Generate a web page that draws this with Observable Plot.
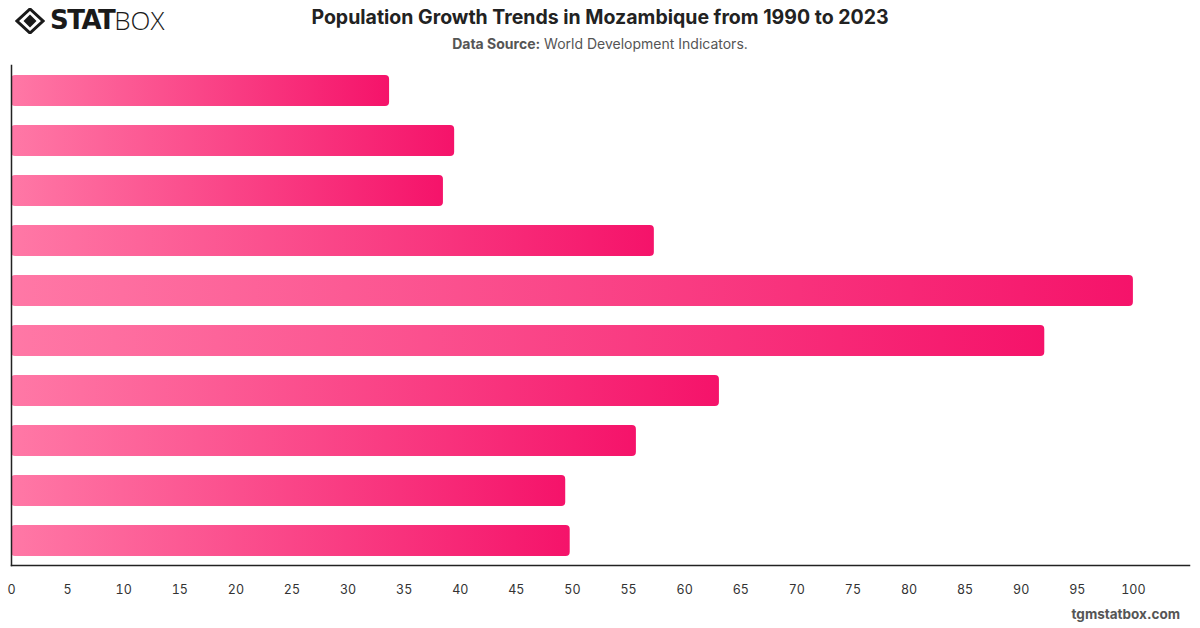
<!DOCTYPE html>
<html>
<head>
<meta charset="utf-8">
<script src="https://cdn.jsdelivr.net/npm/d3@7"></script>
<script src="https://cdn.jsdelivr.net/npm/@observablehq/plot@0.6"></script>
<style>
  html, body { margin: 0; padding: 0; background: #fff; }
  body { width: 1200px; height: 628px; position: relative; overflow: hidden; font-family: Inter, "Helvetica Neue", Arial, sans-serif; }
  #chart { position: absolute; left: 0; top: 0; }
  #title { position: absolute; top: 5px; left: 0; width: 1200px; text-align: center; font-size: 19.5px; font-weight: 700; color: #222; }
  #subtitle { position: absolute; top: 35px; left: 0; width: 1200px; text-align: center; font-size: 14px; color: #555; }
  #subtitle b { font-weight: 700; color: #555; }
  #footer { position: absolute; top: 606px; right: 20px; font-size: 13.5px; font-weight: 700; color: #555; }
  #logo { position: absolute; left: 15px; top: 7px; display: flex; align-items: center; }
  #logo .t { font-size: 26px; line-height: 27px; color: #1a1a1a; }
</style>
</head>
<body>
<div id="chart"></div>
<div id="logo">
  <svg width="30" height="26" viewBox="0 0 30 26">
    <path d="M15 1 L28 13 L15 25 L2 13 Z" fill="none" stroke="#1a1a1a" stroke-width="3"/>
    <path d="M15 6.5 L21.5 13 L15 19.5 L8.5 13 Z" fill="#1a1a1a"/>
  </svg>
  <span class="t" style="font-weight:900; margin-left:5px; font-family:'DejaVu Sans', sans-serif; letter-spacing:-1.5px;">STAT</span><span class="t" style="font-weight:300; font-family:'Open Sans', sans-serif;">BOX</span>
</div>
<div id="title">Population Growth Trends in Mozambique from 1990 to 2023</div>
<div id="subtitle"><b>Data Source:</b> World Development Indicators.</div>
<div id="footer">tgmstatbox.com</div>
<script>
const categories = ["1", "2", "3", "4", "5", "6", "7", "8", "9", "10"];
const values = [33.7, 39.5, 38.5, 57.3, 100, 92.1, 63.1, 55.7, 49.4, 49.8];
const xTicks = [0, 5, 10, 15, 20, 25, 30, 35, 40, 45, 50, 55, 60, 65, 70, 75, 80, 85, 90, 95, 100];

const data = categories.map((c, i) => ({category: c, value: values[i]}));

const chart = Plot.plot({
  width: 1200,
  height: 628,
  marginTop: 65,
  marginBottom: 63,
  marginLeft: 11,
  marginRight: 11,
  style: {fontFamily: "Inter, 'Helvetica Neue', Arial, sans-serif", fontSize: "12.5px", color: "#333", background: "#fff"},
  x: {domain: [0, 105], ticks: xTicks, label: null},
  y: {domain: categories, paddingInner: 0.38, paddingOuter: 0.19, axis: null},
  marks: [
    () => {
      const svg = d3.create("svg:defs");
      const g = svg.append("linearGradient").attr("id", "barGrad").attr("x1", "0").attr("x2", "1").attr("y1", "0").attr("y2", "0");
      g.append("stop").attr("offset", "0%").attr("stop-color", "#ff78a6");
      g.append("stop").attr("offset", "100%").attr("stop-color", "#f5136a");
      return svg.node();
    },
    Plot.barX(data, {x: "value", y: "category", fill: "url(#barGrad)", rx: 4}),
    Plot.frame({anchor: "left", stroke: "#222", strokeWidth: 1.5}),
    Plot.frame({anchor: "bottom", stroke: "#222", strokeWidth: 1.5}),
    Plot.axisX({ticks: xTicks, tickSize: 0, tickPadding: 20, label: null, fill: "#333"})
  ]
});
document.getElementById("chart").appendChild(chart);
</script>
</body>
</html>
